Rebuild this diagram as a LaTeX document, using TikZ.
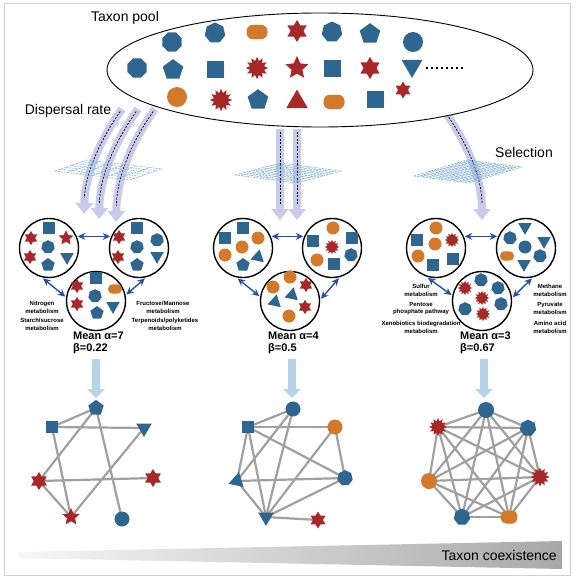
\documentclass[tikz,border=0pt]{standalone}
\usepackage{fontspec}
\setmainfont{Liberation Sans}
\usetikzlibrary{shapes.geometric,arrows.meta,calc}
\definecolor{cblue}{HTML}{2F6690}
\definecolor{cred}{HTML}{A8282A}
\definecolor{corange}{HTML}{D4782A}
\definecolor{dblue}{HTML}{2450A8}
\definecolor{lav}{HTML}{C9CBEA}
\definecolor{lblue}{HTML}{B7D3E7}
\definecolor{gridc}{HTML}{7FAED6}
\definecolor{edgeg}{HTML}{A0A0A0}
\definecolor{framec}{HTML}{D0D0D0}
\pgfdeclarelayer{bg}
\pgfsetlayers{bg,main}
\def\shsz{20}
\newcommand\gridpar[5]{%
  \foreach \i in {0,...,#5} {
    \draw[gridl] ($#1!\i/#5!#4$) -- ($#2!\i/#5!#3$);
    \draw[gridl] ($#1!\i/#5!#2$) -- ($#4!\i/#5!#3$);
  }}
\begin{document}
\begin{tikzpicture}[x=1pt,y=-1pt,
 sh/.style={inner sep=0pt,outer sep=0pt,draw=none},
 bci/.style={sh,circle,fill=cblue,minimum size={\shsz}},
 oci/.style={sh,circle,fill=corange,minimum size={\shsz}},
 bsq/.style={sh,rectangle,fill=cblue,minimum size={0.85*\shsz}},
 bpe/.style={sh,regular polygon,regular polygon sides=5,fill=cblue,minimum size={1.08*\shsz}},
 bhe/.style={sh,regular polygon,regular polygon sides=7,fill=cblue,minimum size={1.05*\shsz}},
 boc/.style={sh,regular polygon,regular polygon sides=8,fill=cblue,minimum size={1.05*\shsz}},
 bdt/.style={sh,regular polygon,regular polygon sides=3,shape border rotate=180,fill=cblue,minimum size={1.2*\shsz}},
 but/.style={sh,regular polygon,regular polygon sides=3,fill=cblue,minimum size={1.2*\shsz}},
 rtr/.style={sh,regular polygon,regular polygon sides=3,fill=cred,minimum size={1.25*\shsz}},
 rs6/.style={sh,star,star points=6,star point ratio=1.7,fill=cred,minimum size={1.1*\shsz}},
 rs5/.style={sh,star,star points=5,star point ratio=2.1,fill=cred,minimum size={1.2*\shsz}},
 rbu/.style={sh,star,star points=12,star point ratio=1.55,fill=cred,minimum size={1.12*\shsz}},
 orr/.style={sh,rectangle,rounded corners={0.32*\shsz},fill=corange,minimum width={1.05*\shsz},minimum height={0.72*\shsz}},
 clus/.style={circle,draw=black,line width=1.4pt,minimum size=59pt,inner sep=0pt,outer sep=1.5pt},
 dbl/.style={draw=dblue,line width=1.4pt,{Stealth[length=7.5pt,width=7pt]}-{Stealth[length=7.5pt,width=7pt]}},
 lavarr/.style={draw=lav,line width=8pt,-{Triangle[width=17pt,length=11pt]}},
 dashc/.style={draw=black,line width=0.7pt,dash pattern=on 2pt off 1.5pt,shorten <=3pt,shorten >=16pt},
 gridl/.style={draw=gridc,line width=0.5pt,dash pattern=on 2pt off 1pt},
 lba/.style={draw=lblue,line width=8.5pt,-{Triangle[width=17pt,length=9pt]}},
 edge/.style={draw=edgeg,line width=2.2pt},
 bigl/.style={font=\fontsize{14}{16}\selectfont,inner sep=0pt},
 lab/.style={font=\bfseries\fontsize{6}{7.8}\selectfont,align=center,inner sep=0pt},
 meanl/.style={font=\bfseries\fontsize{11}{13}\selectfont,inner sep=0pt,anchor=west}
]
\useasboundingbox (0,0) rectangle (575,580);
\draw[framec,line width=1pt] (4,4) rectangle (570,575);

% ---------- lavender arrows ----------
\coordinate (a1s) at (122,109); \coordinate (a1e) at (84,214);
\coordinate (a2s) at (138,109); \coordinate (a2e) at (99,219);
\coordinate (a3s) at (155,109); \coordinate (a3e) at (116,222);
\coordinate (a4s) at (280,129); \coordinate (a4e) at (280,220);
\coordinate (a5s) at (297,129); \coordinate (a5e) at (297,220);
\coordinate (a6s) at (443,109); \coordinate (a6e) at (482,220);
\draw[lavarr] (a1s) .. controls (100,140) and (85,175) .. (a1e);
\draw[lavarr] (a2s) .. controls (116,140) and (100,175) .. (a2e);
\draw[lavarr] (a3s) .. controls (133,140) and (117,175) .. (a3e);
\draw[lavarr] (a4s) -- (a4e);
\draw[lavarr] (a5s) -- (a5e);
\draw[lavarr] (a6s) .. controls (465,140) and (482,175) .. (a6e);
\draw[dashc] (a1s) .. controls (100,140) and (85,175) .. (a1e);
\draw[dashc] (a2s) .. controls (116,140) and (100,175) .. (a2e);
\draw[dashc] (a3s) .. controls (133,140) and (117,175) .. (a3e);
\draw[dashc] (a4s) -- (a4e);
\draw[dashc] (a5s) -- (a5e);
\draw[dashc] (a6s) .. controls (465,140) and (482,175) .. (a6e);

% ---------- grids ----------
\gridpar{(55,171)}{(87,160)}{(162,169)}{(130,180)}{6}
\gridpar{(235,175)}{(280,163)}{(342,171)}{(297,183)}{10}
\gridpar{(414,176)}{(467,160)}{(522,167)}{(469,183)}{14}

% ---------- taxon pool ----------
\node[ellipse,draw,line width=0.9pt,fill=white,minimum width=426pt,minimum height=114pt,inner sep=0pt] (pool) at (320,70) {};
\node[boc] (p1) at (172,42) {};
\node[bhe] (p2) at (215,33) {};
\node[orr] (p3) at (257,32) {};
\node[rs6] (p4) at (297,31) {};
\node[bhe] (p5) at (332,32) {};
\node[bpe] (p6) at (370,34) {};
\node[bci] (p7) at (413,42) {};
\node[boc] (p8) at (137,68) {};
\node[bpe] (p9) at (173,70) {};
\node[bsq] (p10) at (215,70) {};
\node[rbu] (p11) at (257,68) {};
\node[rs5] (p12) at (297,68) {};
\node[bsq] (p13) at (332,69) {};
\node[rs6] (p14) at (370,68) {};
\node[bdt] (p15) at (412,66) {};
\node[oci] (p16) at (177,97) {};
\node[rbu] (p17) at (221,100) {};
\node[bpe] (p18) at (258,100) {};
\node[rtr] (p19) at (297,102) {};
\node[orr] (p20) at (334,102) {};
\node[bsq] (p21) at (375,100) {};
\node[rs6,minimum size=17pt] (p22) at (403,90) {};
\coordinate (dotA) at (426,68); \coordinate (dotB) at (466,68);
\draw[line width=1.5pt,dash pattern=on 1.5pt off 3.5pt] (dotA) -- (dotB);

\node[bigl,anchor=west] (tpool) at (91,18) {Taxon pool};
\node[bigl] (tdisp) at (68,111) {Dispersal rate};
\node[bigl] (tsel) at (524,152) {Selection};

% ---------- cluster 1 ----------
\begin{scope}
\def\shsz{13}
\node[clus] (k1a) at (49,248) {};
\node[clus] (k1b) at (139,248) {};
\node[clus] (k1c) at (96,301) {};
\draw[dbl] (k1a.22) -- (k1b.158);
\draw[dbl] (k1a.259) -- (k1c.172);
\draw[dbl] (k1b.281) -- (k1c.12);
\node[rs6] (c1a1) at (31,238) {};
\node[bsq] (c1a2) at (49,228) {};
\node[rs5] (c1a3) at (66,238) {};
\node[bhe] (c1a4) at (48,247) {};
\node[rs6] (c1a5) at (30,257) {};
\node[bpe] (c1a6) at (48,265) {};
\node[bdt] (c1a7) at (67,257) {};
\node[bsq] (c1b1) at (137,228) {};
\node[rs6] (c1b2) at (119,237) {};
\node[bhe] (c1b3) at (157,240) {};
\node[bhe] (c1b4) at (137,247) {};
\node[rs6] (c1b5) at (118,257) {};
\node[bdt] (c1b6) at (157,256) {};
\node[bpe] (c1b7) at (137,265) {};
\node[rs6] (c1c1) at (77,286) {};
\node[bsq] (c1c2) at (96,278) {};
\node[orr] (c1c3) at (115,289) {};
\node[bhe] (c1c4) at (95,296) {};
\node[rs6] (c1c5) at (77,304) {};
\node[bdt] (c1c6) at (113,306) {};
\node[bpe] (c1c7) at (97,313) {};
\end{scope}
\node[lab] (l11) at (42,307) {Nitrogen\\metabolism};
\node[lab] (l12) at (42,324.5) {Starch/sucrose\\metabolism};
\node[lab] (l13) at (163,307) {Fructose/Mannose\\metabolism};
\node[lab] (l14) at (165,324.5) {Terpenoids/polyketides\\metabolism};
\node[meanl] (m1) at (73,336) {Mean α=7};
\node[meanl] (b1) at (73,349) {β=0.22};

% ---------- cluster 2 ----------
\begin{scope}
\def\shsz{13}
\node[clus] (k2a) at (243,248) {};
\node[clus] (k2b) at (332,248) {};
\node[clus] (k2c) at (290,301) {};
\draw[dbl] (k2a.22) -- (k2b.158);
\draw[dbl] (k2a.260) -- (k2c.171);
\draw[dbl] (k2b.283) -- (k2c.4);
\node[bsq] (c2a1) at (243,228) {};
\node[bsq] (c2a2) at (225,238) {};
\node[oci] (c2a3) at (258,238) {};
\node[oci] (c2a4) at (242,247) {};
\node[oci] (c2a5) at (225,255) {};
\node[bpe] (c2a6) at (243,265) {};
\node[but,shape border rotate=-12] (c2a7) at (258,257) {};
\node[oci] (c2b1) at (333,228) {};
\node[bsq] (c2b2) at (313,241) {};
\node[rbu] (c2b3) at (332,247) {};
\node[bsq] (c2b4) at (352,238) {};
\node[oci] (c2b5) at (317,260) {};
\node[bsq] (c2b6) at (334,264) {};
\node[bhe] (c2b7) at (351,255) {};
\node[oci] (c2c1) at (290,277) {};
\node[oci] (c2c2) at (273,287) {};
\node[rs6] (c2c3) at (306,285) {};
\node[but,shape border rotate=-12] (c2c4) at (292,295) {};
\node[but,shape border rotate=-12] (c2c5) at (275,302) {};
\node[rs6] (c2c6) at (305,307) {};
\node[oci] (c2c7) at (289,316) {};
\end{scope}
\node[meanl] (m2) at (268,336) {Mean α=4};
\node[meanl] (b2) at (268,349) {β=0.5};

% ---------- cluster 3 ----------
\begin{scope}
\def\shsz{13}
\node[clus] (k3a) at (436,248) {};
\node[clus] (k3b) at (526,248) {};
\node[clus] (k3c) at (482,301) {};
\draw[dbl] (k3a.22) -- (k3b.158);
\draw[dbl] (k3a.255) -- (k3c.169);
\draw[dbl] (k3b.281) -- (k3c.7);
\node[oci] (c3a1) at (436,228) {};
\node[bsq] (c3a2) at (417,240) {};
\node[oci] (c3a3) at (435,244) {};
\node[rbu] (c3a4) at (452,240) {};
\node[oci] (c3a5) at (418,256) {};
\node[bsq] (c3a6) at (433,265) {};
\node[bsq] (c3a7) at (453,259) {};
\node[bdt] (c3b1) at (525,227) {};
\node[bhe] (c3b2) at (510,238) {};
\node[bdt] (c3b3) at (544,241) {};
\node[bci] (c3b4) at (525,247) {};
\node[orr] (c3b5) at (507,256) {};
\node[bhe] (c3b6) at (540,256) {};
\node[bdt] (c3b7) at (524,264) {};
\node[bhe] (c3c1) at (481,280) {};
\node[bhe] (c3c2) at (498,288) {};
\node[rbu] (c3c3) at (465,288) {};
\node[rbu] (c3c4) at (482,298) {};
\node[bhe] (c3c5) at (465,309) {};
\node[bhe] (c3c6) at (501,304) {};
\node[rbu] (c3c7) at (483,314) {};
\end{scope}
\node[lab] (l31) at (421,290) {Sulfur\\metabolism};
\node[lab] (l32) at (421,308.5) {Pentose\\phosphate pathway};
\node[lab] (l33) at (421,327.5) {Xenobiotics biodegradation\\metabolism};
\node[lab] (l34) at (550,290) {Methane\\metabolism};
\node[lab] (l35) at (550,308.5) {Pyruvate\\metabolism};
\node[lab] (l36) at (550,327.5) {Amino acid\\metabolism};
\node[meanl] (m3) at (460,336) {Mean α=3};
\node[meanl] (b3) at (460,349) {β=0.67};

% ---------- light blue arrows ----------
\coordinate (d1s) at (96,359); \coordinate (d1e) at (96,398);
\coordinate (d2s) at (292,359); \coordinate (d2e) at (292,398);
\coordinate (d3s) at (484,359); \coordinate (d3e) at (484,398);
\draw[lba] (d1s) -- (d1e);
\draw[lba] (d2s) -- (d2e);
\draw[lba] (d3s) -- (d3e);

% ---------- networks ----------
\begin{scope}
\def\shsz{15}
\node[bpe] (n1p) at (96,408) {};
\node[bsq] (n1s) at (52,427) {};
\node[bdt] (n1t) at (144,428) {};
\node[rs6,minimum size=18pt] (n1l) at (39,481) {};
\node[rs6,minimum size=18pt] (n1r) at (153,478) {};
\node[rs5] (n1b) at (71,517) {};
\node[bci] (n1c) at (122,519) {};
\node[bci] (n2c) at (293,409) {};
\node[bsq] (n2s) at (248,427) {};
\node[oci] (n2o) at (335,427) {};
\node[but,shape border rotate=-12] (n2u) at (237,481) {};
\node[bhe] (n2h) at (345,478) {};
\node[bdt] (n2d) at (266,517) {};
\node[rs6,minimum size=17pt] (n2r) at (318,520) {};
\def\shsz{16}
\node[bci] (n3c) at (486,410) {};
\node[rbu,minimum size=18pt] (n3l) at (438,427) {};
\node[bhe] (n3h) at (528,428) {};
\node[oci] (n3o) at (429,481) {};
\node[rbu,minimum size=19pt] (n3r) at (540,477) {};
\node[bhe] (n3d) at (462,517) {};
\node[orr,minimum height=13pt] (n3q) at (509,517) {};
\end{scope}
\begin{pgfonlayer}{bg}
\foreach \a/\b in {n1p/n1s,n1p/n1l,n1p/n1c,n1s/n1t,n1s/n1b,n1t/n1b,n1l/n1r,n1l/n1b}
  \draw[edge] (\a.center) -- (\b.center);
\foreach \a/\b in {n2c/n2s,n2c/n2u,n2c/n2d,n2s/n2o,n2s/n2u,n2s/n2d,n2s/n2h,n2o/n2d,n2o/n2h,n2u/n2h,n2u/n2d,n2d/n2h,n2d/n2r}
  \draw[edge] (\a.center) -- (\b.center);
\foreach \a/\b in {n3c/n3l,n3c/n3h,n3c/n3o,n3c/n3r,n3c/n3d,n3c/n3q,n3l/n3h,n3l/n3o,n3l/n3r,n3l/n3d,n3l/n3q,n3h/n3o,n3h/n3r,n3h/n3d,n3h/n3q,n3o/n3r,n3o/n3d,n3o/n3q,n3r/n3d,n3r/n3q,n3d/n3q}
  \draw[edge] (\a.center) -- (\b.center);
\end{pgfonlayer}

% ---------- bottom bar ----------
\shade[left color=black!3,right color=black!34] (18,552) -- (562,541) -- (562,569) -- (18,558) -- cycle;
\node[bigl,anchor=east] (tco) at (557,555) {Taxon coexistence};
\end{tikzpicture}
\end{document}
